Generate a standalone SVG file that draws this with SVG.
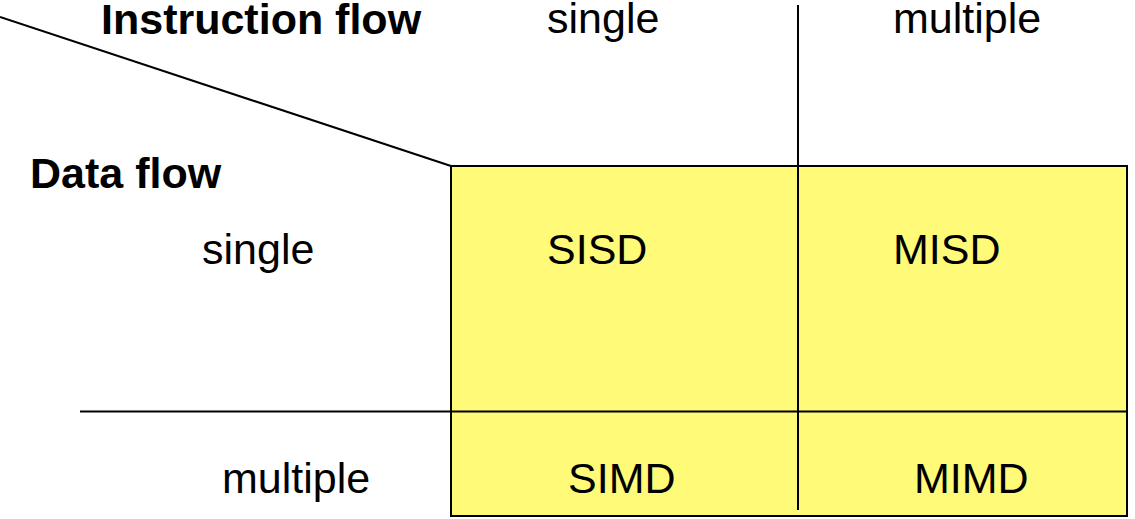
<svg xmlns="http://www.w3.org/2000/svg" width="1135" height="519" viewBox="0 0 1135 519">
<style>
.t{font-family:"Liberation Sans",Arial,sans-serif;font-size:43px;fill:#000}
.b{font-weight:bold}
.ln{stroke:#000;stroke-width:2;fill:none}
</style>
<rect width="1135" height="519" fill="#fff"/>
<g id="grid">
<rect x="451" y="166" width="676" height="350" fill="#FFFA78" stroke="#000" stroke-width="2"/>
</g>
<g id="connectors">
<line class="ln" x1="0" y1="17" x2="451" y2="166"/>
<line class="ln" x1="798" y1="5" x2="798" y2="510"/>
<line class="ln" x1="80" y1="411.5" x2="1127" y2="411.5"/>
</g>
<g id="header-instruction"><text class="t b" x="101" y="34">Instruction flow</text></g>
<g id="header-data"><text class="t b" x="30" y="188">Data flow</text></g>
<g id="col-single"><text class="t" x="547" y="33">single</text></g>
<g id="col-multiple"><text class="t" x="893" y="33">multiple</text></g>
<g id="row-single"><text class="t" x="202" y="264">single</text></g>
<g id="row-multiple"><text class="t" x="222" y="493">multiple</text></g>
<g id="SISD"><text class="t" x="547" y="264">SISD</text></g>
<g id="MISD"><text class="t" x="893" y="264">MISD</text></g>
<g id="SIMD"><text class="t" x="568" y="493">SIMD</text></g>
<g id="MIMD"><text class="t" x="914" y="493">MIMD</text></g>
</svg>
